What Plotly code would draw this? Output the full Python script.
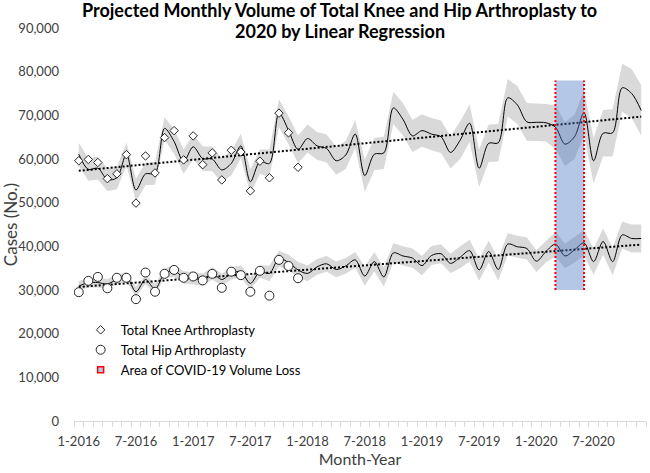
import plotly.graph_objects as go

# ---------------- data ----------------
months = [f"{m}-{y}" for y in range(2016, 2021) for m in range(1, 13)]
tick_labels = ["1-2016", "7-2016", "1-2017", "7-2017", "1-2018",
               "7-2018", "1-2019", "7-2019", "1-2020", "7-2020"]
tick_positions = [0, 6, 12, 18, 24, 30, 36, 42, 48, 54]

title_lines = ["Projected Monthly Volume of Total Knee and Hip Arthroplasty to",
               "2020 by Linear Regression"]

# observed monthly volumes (Jan 2016 - Dec 2017)
knee_obs = [59600, 59900, 59200, 55500, 56600, 61000, 49900, 60700, 56800, 64900,
            66500, 59800, 65300, 58700, 61400, 55200, 62000, 61600, 52700, 59500,
            55700, 70500, 66000, 58100]
hip_obs = [29500, 32100, 33000, 30400, 32800, 32800, 27900, 34000, 29600, 33700,
           34600, 32800, 33100, 32200, 33700, 30500, 34200, 33400, 29600, 34400,
           28700, 36900, 35500, 32700]

# fitted / projected monthly volumes (Jan 2016 - Dec 2020)
knee_fit = [61100, 57600, 57900, 55300, 55700, 61100, 52900, 56600, 56700, 67000,
            64000, 59400, 62800, 60100, 60000, 57500, 59000, 63000, 54800, 59400,
            59000, 70500, 66600, 62200, 64700, 63000, 62400, 59600, 60900, 65700,
            56200, 61100, 61400, 71700, 69100, 65300, 66500, 65700, 65100, 61500,
            64300, 68200, 57900, 63600, 63700, 74000, 72400, 68500, 68400, 68300,
            67300, 63400, 65100, 70600, 59600, 65900, 66000, 76300, 75000, 71100]
knee_upper = [63700, 60200, 60500, 57900, 58300, 63700, 55500, 59200, 59300, 69600,
              66800, 62200, 65600, 62900, 62800, 60300, 61800, 65800, 57600, 62200,
              62200, 73700, 69800, 65400, 67900, 66200, 65600, 62800, 64100, 68900,
              59900, 64800, 65100, 75400, 72800, 69000, 70200, 69400, 68800, 65200,
              68600, 72500, 62200, 67900, 68000, 78300, 76700, 72800, 72700, 72600,
              72300, 68400, 70200, 75700, 64800, 71200, 71400, 81800, 80600, 76900]
knee_lower = [58500, 55000, 55300, 52700, 53100, 58500, 50300, 54000, 54100, 64400,
              61200, 56600, 60000, 57300, 57200, 54700, 56200, 60200, 52000, 56600,
              55800, 67300, 63400, 59000, 61500, 59800, 59200, 56400, 57700, 62500,
              52500, 57400, 57700, 68000, 65400, 61600, 62800, 62000, 61400, 57800,
              60000, 63900, 53600, 59300, 59400, 69700, 68100, 64200, 64100, 64000,
              62300, 58400, 60000, 65500, 54400, 60600, 60600, 70800, 69400, 65300]

hip_fit = [30900, 31700, 31700, 31400, 32400, 33000, 29600, 32400, 30200, 33800,
           34400, 32900, 32700, 32400, 33800, 32400, 33800, 34200, 31500, 34200,
           33800, 37200, 36300, 34600, 33800, 35300, 36000, 34700, 35500, 36900,
           33200, 36500, 33000, 38500, 37800, 37300, 35600, 37900, 38300, 36100,
           37500, 39000, 34600, 38800, 34700, 40500, 39900, 39500, 36600, 38800,
           40500, 37800, 39200, 40800, 36500, 41100, 36500, 42600, 41800, 41800]
hip_upper = [32000, 32800, 32800, 32500, 33500, 34100, 30700, 33500, 31300, 34900,
             35800, 34300, 34100, 33800, 35200, 33800, 35200, 35600, 32900, 35600,
             35600, 39000, 38100, 36400, 35600, 37100, 37800, 36500, 37300, 38700,
             35400, 38700, 35200, 40700, 40000, 39500, 37800, 40100, 40500, 38300,
             40000, 41500, 37100, 41300, 37200, 43000, 42400, 42000, 39100, 41300,
             43300, 40600, 42100, 43700, 39500, 44100, 39600, 45700, 45000, 45000]
hip_lower = [29800, 30600, 30600, 30300, 31300, 31900, 28500, 31300, 29100, 32700,
             33000, 31500, 31300, 31000, 32400, 31000, 32400, 32800, 30100, 32800,
             32000, 35400, 34500, 32800, 32000, 33500, 34200, 32900, 33700, 35100,
             31000, 34300, 30800, 36300, 35600, 35100, 33400, 35700, 36100, 33900,
             35000, 36500, 32100, 36300, 32200, 38000, 37400, 37000, 34100, 36300,
             37700, 35000, 36300, 37900, 33500, 38100, 33400, 39500, 38600, 38600]

# linear regression trend (value at first and last month)
knee_trend = [57300, 69700]
hip_trend = [30700, 40400]

# COVID-19 volume loss window (month index) and vertical extent
covid_months = [50, 53]
covid_range = [30000, 78000]

# ---------------- figure ----------------
FONT = "Lato"
idx = list(range(len(months)))
obs_idx = idx[:len(knee_obs)]
trend_idx = [idx[0], idx[-1]]

fig = go.Figure()

for lo, up in [(knee_lower, knee_upper), (hip_lower, hip_upper)]:
    fig.add_trace(go.Scatter(x=idx, y=lo, mode="lines", line=dict(width=0),
                             hoverinfo="skip", showlegend=False))
    fig.add_trace(go.Scatter(x=idx, y=up, mode="lines", line=dict(width=0),
                             fill="tonexty", fillcolor="#d9d9d9",
                             hoverinfo="skip", showlegend=False))

for fit in [knee_fit, hip_fit]:
    fig.add_trace(go.Scatter(x=idx, y=fit, mode="lines",
                             line=dict(color="black", width=1, shape="spline", smoothing=0.9),
                             showlegend=False))

for tr in [knee_trend, hip_trend]:
    fig.add_trace(go.Scatter(x=trend_idx, y=tr, mode="lines",
                             line=dict(color="black", width=2, dash="2px,2px"),
                             showlegend=False))

fig.add_trace(go.Scatter(x=obs_idx, y=knee_obs, mode="markers",
                         name="Total Knee Arthroplasty", legendgroup="a",
                         marker=dict(symbol="diamond", size=6.5, color="white",
                                     line=dict(color="#262626", width=1))))
fig.add_trace(go.Scatter(x=obs_idx, y=hip_obs, mode="markers",
                         name="Total Hip Arthroplasty", legendgroup="b",
                         marker=dict(symbol="circle", size=9, color="white",
                                     line=dict(color="#262626", width=1))))
fig.add_trace(go.Scatter(x=[None], y=[None], mode="markers",
                         name="Area of COVID-19 Volume Loss", legendgroup="c",
                         marker=dict(symbol="square", size=6, color="#b4c7e7",
                                     line=dict(color="#ff0000", width=1.5))))

fig.add_shape(type="rect", xref="x", yref="y",
              x0=covid_months[0], x1=covid_months[1],
              y0=covid_range[0], y1=covid_range[1],
              fillcolor="rgba(68,114,196,0.4)", line=dict(width=0), layer="above")
for xm in covid_months:
    fig.add_shape(type="line", xref="x", yref="y", x0=xm, x1=xm,
                  y0=covid_range[0], y1=covid_range[1],
                  line=dict(color="#ff0000", width=2, dash="2px,2px"), layer="above")

# two-line title (line 1 centred ~10 px from top, line 2 ~31 px)
for text, ypos in zip(title_lines, [1.0458, 0.9924]):
    fig.add_annotation(text=f"<b>{text}</b>", xref="paper", yref="paper",
                       x=0.465, y=ypos, xanchor="center", yanchor="middle",
                       showarrow=False,
                       font=dict(family=FONT, size=18, color="black"))

fig.update_layout(
    width=650, height=473,
    margin=dict(l=70, r=4, t=28, b=52),
    paper_bgcolor="white", plot_bgcolor="white",
    font=dict(family=FONT, color="#404040", size=13),
    legend=dict(x=0.0116, y=0.27, xanchor="left", yanchor="top",
                traceorder="normal",
                bgcolor="rgba(0,0,0,0)", font=dict(family=FONT, size=13, color="black"),
                tracegroupgap=5),
    showlegend=True,
)

fig.update_xaxes(range=[-0.5, len(months) - 0.5], tickvals=tick_positions,
                 ticktext=tick_labels, showgrid=False, zeroline=False,
                 showline=True, linecolor="#d9d9d9", linewidth=1,
                 ticks="", ticklabelstandoff=8,
                 minor=dict(ticks="outside", tick0=-0.5, dtick=1, ticklen=5,
                            tickcolor="#d9d9d9", showgrid=False),
                 tickfont=dict(size=13, color="#404040"),
                 title=dict(text="Month-Year", font=dict(size=16, color="#404040"), standoff=6))
fig.update_yaxes(range=[0, 90000], dtick=10000, tickformat=",",
                 showgrid=False, zeroline=False, showline=False, ticks="",
                 ticklabelstandoff=14,
                 tickfont=dict(size=13, color="#404040"),
                 title=dict(text="Cases (No.)", font=dict(size=17, color="#404040"), standoff=2))

fig.write_html("out.html", config={"displayModeBar": False},
               post_script="document.body.style.margin='0';")
